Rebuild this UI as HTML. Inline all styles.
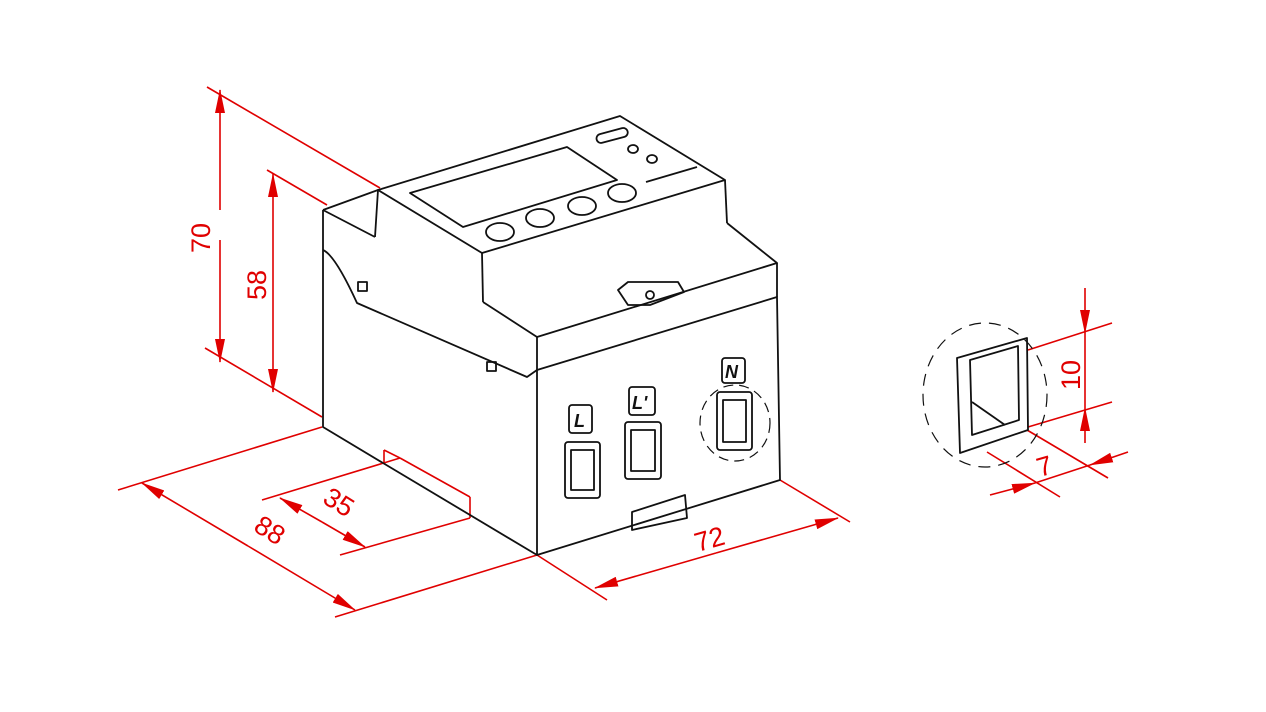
<!DOCTYPE html>
<html><head><meta charset="utf-8"><style>html,body{margin:0;padding:0;background:#fff}svg{display:block}</style></head>
<body>
<svg width="1266" height="712" viewBox="0 0 1266 712" xmlns="http://www.w3.org/2000/svg">
<defs>
<marker id="b" markerWidth="24" markerHeight="10" refX="23" refY="5" orient="auto" markerUnits="userSpaceOnUse" viewBox="0 0 24 10"><path d="M0,0 L24,5 L0,10 z" fill="#e00000"/></marker>
</defs>
<g stroke="#e00000" stroke-width="1.6" fill="none">
<!-- 70 -->
<line x1="207" y1="87" x2="380" y2="188"/>
<line x1="205" y1="348" x2="322" y2="417"/>
<line x1="220" y1="210" x2="220" y2="90" marker-end="url(#b)"/>
<line x1="220" y1="240" x2="220" y2="362" marker-end="url(#b)"/>
<!-- 58 -->
<line x1="267" y1="170" x2="327" y2="205"/>
<line x1="273" y1="280" x2="273" y2="174" marker-end="url(#b)"/>
<line x1="273" y1="280" x2="273" y2="392" marker-end="url(#b)"/>
<!-- 88 -->
<line x1="118" y1="490" x2="322" y2="427"/>
<line x1="335" y1="617" x2="537" y2="555"/>
<line x1="248" y1="546" x2="142" y2="483" marker-end="url(#b)"/>
<line x1="248" y1="546" x2="355" y2="610" marker-end="url(#b)"/>
<!-- 35 -->
<line x1="262" y1="500" x2="400" y2="458"/>
<line x1="384" y1="463" x2="384" y2="450"/><line x1="384" y1="450" x2="400" y2="458"/>
<line x1="400" y1="458" x2="470" y2="497"/><line x1="470" y1="497" x2="470" y2="518"/>
<line x1="340" y1="555" x2="470" y2="518"/>
<line x1="322" y1="522" x2="280" y2="498" marker-end="url(#b)"/>
<line x1="322" y1="522" x2="365" y2="547" marker-end="url(#b)"/>
<!-- 72 -->
<line x1="537" y1="555" x2="607" y2="600"/>
<line x1="780" y1="480" x2="850" y2="522"/>
<line x1="716" y1="553" x2="595" y2="588" marker-end="url(#b)"/>
<line x1="716" y1="553" x2="838" y2="518" marker-end="url(#b)"/>
<!-- 10 -->
<line x1="1028" y1="350" x2="1112" y2="323"/>
<line x1="1028" y1="427" x2="1112" y2="402"/>
<line x1="1085" y1="288" x2="1085" y2="333" marker-end="url(#b)"/>
<line x1="1085" y1="443" x2="1085" y2="408" marker-end="url(#b)"/>
<line x1="1085" y1="333" x2="1085" y2="408"/>
<!-- 7 -->
<line x1="987" y1="452" x2="1060" y2="497"/>
<line x1="1027" y1="430" x2="1108" y2="478"/>
<line x1="990" y1="495" x2="1035" y2="483" marker-end="url(#b)"/>
<line x1="1128" y1="452" x2="1090" y2="465" marker-end="url(#b)"/>
<line x1="1035" y1="483" x2="1090" y2="465"/>
</g>
<g fill="#e00000" font-family="Liberation Sans, sans-serif" font-size="27">
<text transform="translate(210,238) rotate(-90)" text-anchor="middle">70</text>
<text transform="translate(266,285) rotate(-90)" text-anchor="middle">58</text>
<text transform="translate(265,538) rotate(32)" text-anchor="middle">88</text>
<text transform="translate(334,510) rotate(32)" text-anchor="middle">35</text>
<text transform="translate(712,548) rotate(-16)" text-anchor="middle">72</text>
<text transform="translate(1080,375) rotate(-90)" text-anchor="middle">10</text>
<text transform="translate(1047,475) rotate(-16)" text-anchor="middle">7</text>
</g>
<g stroke="#111" stroke-width="1.8" fill="none" stroke-linejoin="round">
<polygon points="378,190 620,116 725,180 482,253"/>
<polyline points="482,253 483,302"/>
<polyline points="725,180 727,223"/>
<polyline points="483,302 537,337 777,263 727,223"/>
<polygon points="410,193 567,147 617,180 463,227"/>
<rect x="596" y="131" width="32" height="9" rx="4.5" transform="rotate(-15 612 135)"/>
<ellipse cx="633" cy="149" rx="5" ry="4"/><ellipse cx="652" cy="159" rx="5" ry="4"/>
<line x1="646" y1="182" x2="697" y2="167"/>
<ellipse cx="500" cy="232" rx="14" ry="9"/><ellipse cx="540" cy="218" rx="14" ry="9"/>
<ellipse cx="582" cy="206" rx="14" ry="9"/><ellipse cx="622" cy="193" rx="14" ry="9"/>
<polyline points="323,210 378,190 375,237"/>
<line x1="323" y1="210" x2="375" y2="237"/>
<polyline points="323,210 323,427 383,463"/>
<path d="M323,250 Q335,255 357,303 L527,377 L537,370"/>
<rect x="358" y="282" width="9" height="9"/><rect x="487" y="362" width="9" height="9"/>
<polyline points="537,337 537,370"/>
<polyline points="777,263 777,297"/>
<polygon points="618,290 628,282 678,282 684,292 650,305 628,305"/>
<circle cx="650" cy="295" r="4"/>
<polygon points="537,370 777,297 780,480 537,555"/>
<line x1="383" y1="463" x2="537" y2="555"/>
<rect x="565" y="442" width="35" height="56" rx="3"/><rect x="571" y="450" width="23" height="40"/>
<rect x="625" y="422" width="36" height="57" rx="3"/><rect x="631" y="430" width="24" height="41"/>
<rect x="717" y="392" width="35" height="58" rx="3"/><rect x="723" y="400" width="23" height="42"/>
<rect x="569" y="405" width="23" height="28" rx="3"/>
<rect x="629" y="387" width="26" height="28" rx="3"/>
<rect x="722" y="358" width="23" height="25" rx="3"/>
<ellipse cx="735" cy="423" rx="35" ry="38" stroke-dasharray="10 6" stroke-width="1.2"/>
<polygon points="632,512 685,495 687,518 632,530"/>
<polygon points="957,358 1027,338 1028,430 960,453"/>
<polygon points="970,360 1018,346 1019,420 972,435"/>
<line x1="972" y1="402" x2="1005" y2="425"/>
<ellipse cx="985" cy="395" rx="62" ry="72" stroke-dasharray="12 8" stroke-width="1.2"/>
</g>
<g fill="#111" font-family="Liberation Sans, sans-serif" font-weight="bold" font-style="italic" font-size="18">
<text x="574" y="427">L</text><text x="632" y="409">L'</text><text x="725" y="378">N</text>
</g>
</svg>
</body></html>
